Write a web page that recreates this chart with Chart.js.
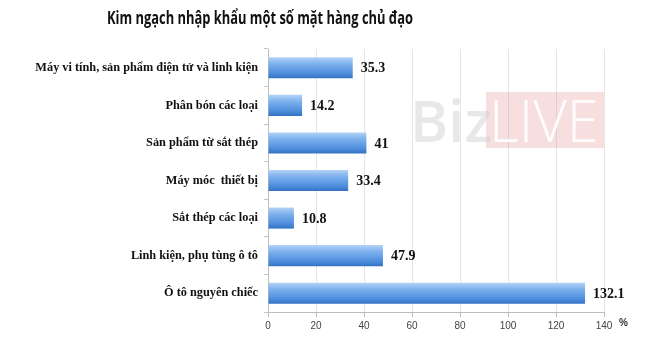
<!DOCTYPE html>
<html>
<head>
<meta charset="utf-8">
<script src="https://cdn.jsdelivr.net/npm/chart.js@4/dist/chart.umd.min.js"></script>
<style>
  html, body { margin: 0; padding: 0; background: #fff; }
  #wrap { width: 670px; height: 350px; }
</style>
</head>
<body>
<div id="wrap"><canvas id="c" width="670" height="350"></canvas></div>
<script>
const titleText = 'Kim ngạch nhập khẩu một số mặt hàng chủ đạo';
const categories = [
  'Máy vi tính, sản phẩm điện tử và linh kiện',
  'Phân bón các loại',
  'Sản phẩm từ sắt thép',
  'Máy móc  thiết bị',
  'Sắt thép các loại',
  'Linh kiện, phụ tùng ô tô',
  'Ô tô nguyên chiếc'
];
const values = [35.3, 14.2, 41, 33.4, 10.8, 47.9, 132.1];
const valueLabels = ['35.3', '14.2', '41', '33.4', '10.8', '47.9', '132.1'];
const xTicks = [0, 20, 40, 60, 80, 100, 120, 140];
const unitLabel = '%';

// Vertical blue gradient for each bar, centred on its category row
function barGradient(ctx) {
  const chart = ctx.chart;
  const yScale = chart.scales && chart.scales.y;
  if (!chart.chartArea || !yScale || ctx.dataIndex === undefined) return '#5b9be0';
  const cy = yScale.getPixelForValue(ctx.dataIndex);
  const band = chart.chartArea.height / categories.length;
  const h = band * 0.56;
  const top = cy - h / 2;
  if (!isFinite(top) || !isFinite(h)) return '#5b9be0';
  const g = chart.ctx.createLinearGradient(0, top, 0, top + h);
  g.addColorStop(0, '#b3d3f6');
  g.addColorStop(0.3, '#7fb2ee');
  g.addColorStop(0.75, '#4f8fdd');
  g.addColorStop(1, '#3473c4');
  return g;
}

const titlePlugin = {
  id: 'titleText',
  afterDraw(chart) {
    const c = chart.ctx;
    c.save();
    c.font = 'bold 17px "Open Sans", sans-serif';
    c.fillStyle = '#111';
    c.textAlign = 'center';
    c.textBaseline = 'middle';
    // condensed title: squeeze horizontally to its target width
    const w = c.measureText(titleText).width;
    const target = 306;
    c.translate(260, 19);
    c.scale(target / w, 1.05);
    c.fillText(titleText, 0, 0);
    c.restore();
  }
};

const watermarkPlugin = {
  id: 'watermark',
  afterDatasetsDraw(chart) {
    const c = chart.ctx;
    c.save();
    c.fillStyle = 'rgba(228,150,150,0.3)';
    c.fillRect(486, 92, 118, 56);
    c.textBaseline = 'alphabetic';
    c.textAlign = 'left';
    c.font = '600 58px "Open Sans", sans-serif';
    c.fillStyle = 'rgba(205,205,205,0.45)';
    c.fillText('Biz', 410, 142);
    c.font = '300 58px "Open Sans", sans-serif';
    c.fillStyle = 'rgba(255,255,255,0.92)';
    c.fillText('LIVE', 489, 142);
    c.restore();
  }
};

const valueLabelPlugin = {
  id: 'valueLabels',
  afterDatasetsDraw(chart) {
    const c = chart.ctx;
    const meta = chart.getDatasetMeta(0);
    c.save();
    c.font = 'bold 14px "Liberation Serif", serif';
    c.fillStyle = '#111';
    c.textAlign = 'left';
    c.textBaseline = 'middle';
    meta.data.forEach((bar, i) => {
      c.fillText(valueLabels[i], bar.x + 8, bar.y + 1);
    });
    // unit after the last tick
    c.font = 'bold 10px "Liberation Sans", sans-serif';
    c.fillStyle = '#333';
    c.fillText(unitLabel, chart.chartArea.right + 15, 323);
    c.restore();
  }
};

new Chart(document.getElementById('c'), {
  type: 'bar',
  data: {
    labels: categories,
    datasets: [{
      data: values,
      backgroundColor: barGradient,
      borderWidth: 0,
      categoryPercentage: 0.56,
      barPercentage: 1
    }]
  },
  options: {
    indexAxis: 'y',
    responsive: false,
    animation: false,
    layout: { padding: { top: 49, right: 66, bottom: 0, left: 0 } },
    plugins: {
      legend: { display: false },
      tooltip: { enabled: false }
    },
    scales: {
      x: {
        min: 0,
        max: 140,
        afterBuildTicks(axis) { axis.ticks = xTicks.map(v => ({ value: v })); },
        afterFit(axis) { axis.height = 38; },
        grid: { color: '#e6e6e6', drawTicks: true, tickLength: 5, tickColor: '#bbb' },
        border: { color: '#bdbdbd', width: 1 },
        ticks: {
          color: '#444',
          font: { family: '"Liberation Sans", sans-serif', size: 10 },
          padding: 3,
          maxRotation: 0
        }
      },
      y: {
        afterFit(axis) { axis.width = 268; },
        grid: { display: true, drawOnChartArea: false, drawTicks: true, tickLength: 4, tickColor: '#c4c4c4', offset: true },
        border: { color: '#bdbdbd', width: 1 },
        ticks: {
          color: '#111',
          font: { family: '"Liberation Serif", serif', size: 12.3, weight: 'bold' },
          padding: 6
        }
      }
    }
  },
  plugins: [titlePlugin, watermarkPlugin, valueLabelPlugin]
});
</script>
</body>
</html>
